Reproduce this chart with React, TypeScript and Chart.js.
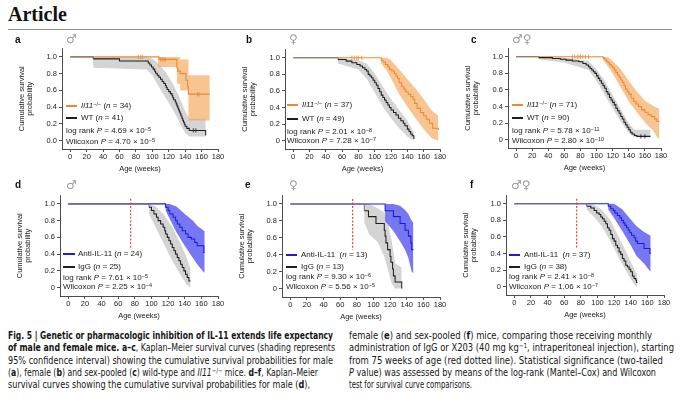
import React, { useEffect, useLayoutEffect, useRef } from 'react';
import { Chart, registerables } from 'chart.js';
Chart.register(...registerables);

// axes
const weekTicks = [0, 20, 40, 60, 80, 100, 120, 140, 160, 180];
const probTicks = [0, 0.2, 0.4, 0.6, 0.8, 1];
const treatStart = 75; // weeks, first antibody dose (d-f)
const treatMarkSpan = [0.46, 1.06];

// survival curves are step functions (value holds from its week on);
// CI bands are outline knots joined by straight edges (repeated week = vertical edge)

// a: male, WT vs Il11-/-
const aWtT = [0, 28, 60, 95, 97, 99, 101, 103, 104, 106, 108, 110, 112, 114, 116, 117, 118, 120, 122, 124, 125, 126, 128, 129, 130, 131, 132, 133, 134, 135, 136, 137, 138, 139, 140, 142, 145, 165];
const aWtS = [1, 0.976, 0.951, 0.927, 0.902, 0.878, 0.854, 0.829, 0.805, 0.78, 0.756, 0.732, 0.707, 0.683, 0.659, 0.634, 0.61, 0.585, 0.561, 0.537, 0.512, 0.488, 0.463, 0.439, 0.415, 0.39, 0.366, 0.341, 0.317, 0.293, 0.268, 0.244, 0.22, 0.195, 0.171, 0.146, 0.122, 0.06];
const aWtBandT = [0, 28, 28, 93, 100, 105, 110, 115, 120, 125, 130, 135, 140, 145, 165];
const aWtBandLo = [1, 1, 0.87, 0.85, 0.78, 0.69, 0.61, 0.53, 0.45, 0.37, 0.28, 0.18, 0.09, 0.05, 0.05];
const aWtBandUp = [1, 1, 1, 1, 0.98, 0.94, 0.89, 0.83, 0.76, 0.68, 0.58, 0.47, 0.35, 0.26, 0.26];
const aWtCens = [150, 153];
const aKoT = [0, 108, 130, 131, 134, 141, 143, 144, 170];
const aKoS = [1, 0.97, 0.87, 0.83, 0.8, 0.72, 0.64, 0.555, 0.555];
const aKoBandT = [0, 107, 107, 130, 130, 134, 134, 144, 144, 170];
const aKoBandLo = [1, 1, 0.88, 0.88, 0.68, 0.68, 0.6, 0.6, 0.24, 0.24];
const aKoBandUp = [1, 1, 1, 1, 1, 1, 0.97, 0.97, 0.78, 0.78];
const aKoCens = [83, 86, 88, 110, 112, 114, 116, 155, 157];

// b: female
const bWtT = [0, 55, 65, 72, 78, 82, 85, 88, 90, 92, 94, 96, 98, 100, 102, 104, 106, 108, 110, 112, 114, 116, 118, 120, 123, 126, 129, 132, 135, 137, 140, 142, 144, 146, 148];
const bWtS = [1, 0.98, 0.96, 0.94, 0.92, 0.9, 0.88, 0.86, 0.84, 0.8, 0.78, 0.76, 0.73, 0.7, 0.67, 0.63, 0.59, 0.55, 0.52, 0.49, 0.46, 0.43, 0.4, 0.37, 0.34, 0.31, 0.27, 0.24, 0.21, 0.18, 0.14, 0.11, 0.08, 0.06, 0.02];
const bWtBandT = [0, 55, 55, 80, 90, 100, 110, 120, 130, 140, 148];
const bWtBandLo = [1, 1, 0.93, 0.86, 0.75, 0.58, 0.41, 0.27, 0.15, 0.05, 0];
const bWtBandUp = [1, 1, 1, 0.97, 0.93, 0.81, 0.65, 0.5, 0.37, 0.24, 0.1];
const bKoT = [0, 108, 110, 113, 116, 118, 121, 124, 126, 128, 130, 133, 136, 138, 141, 144, 147, 149, 152, 156, 160, 163, 167, 171, 178];
const bKoS = [1, 0.97, 0.95, 0.92, 0.89, 0.86, 0.84, 0.81, 0.78, 0.75, 0.7, 0.65, 0.62, 0.59, 0.56, 0.53, 0.5, 0.45, 0.39, 0.34, 0.3, 0.26, 0.21, 0.15, 0.13];
const bKoBandT = [0, 108, 108, 115, 120, 130, 140, 150, 160, 170, 178];
const bKoBandLo = [1, 1, 0.93, 0.84, 0.75, 0.56, 0.41, 0.27, 0.14, 0.03, 0];
const bKoBandUp = [1, 1, 1, 1, 0.97, 0.86, 0.74, 0.63, 0.5, 0.36, 0.3];
const bKoCens = [72, 75, 78, 80, 84];

// c: sexes pooled
const cWtT = [0, 28, 45, 55, 62, 70, 78, 83, 87, 90, 92, 94, 96, 98, 100, 102, 104, 106, 108, 110, 112, 114, 116, 118, 120, 122, 124, 126, 128, 130, 132, 134, 136, 138, 140, 142, 144, 147, 150, 167];
const cWtS = [1, 0.99, 0.98, 0.97, 0.96, 0.95, 0.94, 0.92, 0.9, 0.88, 0.86, 0.84, 0.82, 0.8, 0.77, 0.74, 0.71, 0.68, 0.65, 0.62, 0.58, 0.55, 0.51, 0.48, 0.45, 0.42, 0.38, 0.35, 0.32, 0.28, 0.25, 0.21, 0.18, 0.15, 0.12, 0.09, 0.07, 0.05, 0.04, 0.04];
const cWtBandT = [0, 28, 28, 60, 90, 100, 110, 120, 130, 140, 147, 167];
const cWtBandLo = [1, 1, 0.97, 0.93, 0.84, 0.71, 0.54, 0.38, 0.22, 0.08, 0.03, 0.03];
const cWtBandUp = [1, 1, 1, 0.99, 0.95, 0.85, 0.71, 0.54, 0.37, 0.2, 0.12, 0.12];
const cWtCens = [155, 160];
const cKoT = [0, 108, 110, 112, 114, 116, 118, 120, 122, 124, 126, 128, 130, 132, 134, 136, 138, 140, 143, 146, 149, 152, 156, 160, 164, 168, 172, 175, 178];
const cKoS = [1, 0.985, 0.97, 0.95, 0.93, 0.91, 0.89, 0.87, 0.84, 0.81, 0.78, 0.75, 0.72, 0.69, 0.65, 0.61, 0.58, 0.55, 0.5, 0.46, 0.43, 0.4, 0.36, 0.33, 0.3, 0.28, 0.25, 0.22, 0.22];
const cKoBandT = [0, 108, 108, 115, 120, 130, 140, 150, 160, 170, 176, 178];
const cKoBandLo = [1, 1, 0.96, 0.87, 0.8, 0.63, 0.46, 0.33, 0.21, 0.11, 0.02, 0];
const cKoBandUp = [1, 1, 1, 0.99, 0.95, 0.85, 0.71, 0.58, 0.47, 0.41, 0.38, 0.38];
const cKoCens = [70, 73, 76, 78, 80, 83, 86, 90];

// d: male, IgG vs anti-IL-11
const dIgT = [0, 97, 100, 103, 106, 108, 111, 114, 116, 117, 119, 121, 123, 125, 127, 129, 131, 133, 135, 137, 139, 141, 143, 145, 147];
const dIgS = [1, 0.96, 0.92, 0.88, 0.84, 0.8, 0.76, 0.72, 0.68, 0.64, 0.6, 0.56, 0.52, 0.48, 0.44, 0.4, 0.36, 0.32, 0.28, 0.24, 0.2, 0.16, 0.12, 0.08, 0.08];
const dIgBandT = [0, 97, 97, 105, 115, 125, 135, 142, 147];
const dIgBandLo = [1, 1, 0.88, 0.72, 0.52, 0.32, 0.15, 0.04, 0];
const dIgBandUp = [1, 1, 1, 0.97, 0.87, 0.72, 0.52, 0.37, 0.22];
const dAbT = [0, 117, 120, 122, 126, 129, 131, 134, 137, 141, 144, 148, 152, 155, 163, 164];
const dAbS = [1, 0.96, 0.92, 0.88, 0.84, 0.8, 0.76, 0.72, 0.68, 0.64, 0.6, 0.58, 0.54, 0.5, 0.42, 0.42];
const dAbBandT = [0, 117, 117, 122, 130, 140, 150, 155, 163, 164];
const dAbBandLo = [1, 1, 0.92, 0.82, 0.66, 0.5, 0.35, 0.28, 0.18, 0.18];
const dAbBandUp = [1, 1, 1, 1, 0.97, 0.88, 0.8, 0.74, 0.68, 0.68];

// e: female
const eIgT = [0, 89, 94, 103, 113, 114, 115, 117, 120, 121, 123, 124, 126, 134];
const eIgS = [1, 0.92, 0.85, 0.77, 0.69, 0.62, 0.54, 0.46, 0.38, 0.31, 0.23, 0.15, 0.077, 0];
const eIgBandT = [0, 89, 89, 95, 105, 113, 118, 122, 126, 134];
const eIgBandLo = [1, 1, 0.78, 0.64, 0.55, 0.38, 0.2, 0.06, 0, 0];
const eIgBandUp = [1, 1, 1, 1, 0.95, 0.9, 0.74, 0.56, 0.3, 0.25];
const eAbT = [0, 114, 124, 132, 138, 142, 145, 146, 148];
const eAbS = [1, 0.92, 0.85, 0.77, 0.69, 0.62, 0.54, 0.46, 0.46];
const eAbBandT = [0, 114, 114, 124, 132, 138, 142, 146, 148];
const eAbBandLo = [1, 1, 0.8, 0.68, 0.56, 0.46, 0.36, 0.2, 0.18];
const eAbBandUp = [1, 1, 1, 1, 0.98, 0.93, 0.88, 0.8, 0.78];

// f: sexes pooled
const fIgT = [0, 87, 92, 96, 99, 102, 104, 106, 108, 110, 112, 114, 116, 118, 120, 122, 124, 126, 128, 130, 132, 134, 136, 138, 140, 142, 144, 146, 147, 148];
const fIgS = [1, 0.97, 0.95, 0.92, 0.89, 0.87, 0.84, 0.82, 0.79, 0.76, 0.71, 0.68, 0.63, 0.58, 0.55, 0.5, 0.47, 0.42, 0.39, 0.34, 0.31, 0.26, 0.24, 0.21, 0.18, 0.13, 0.1, 0.08, 0.05, 0.05];
const fIgBandT = [0, 87, 87, 95, 105, 115, 125, 135, 142, 146, 148];
const fIgBandLo = [1, 1, 0.93, 0.85, 0.73, 0.56, 0.36, 0.18, 0.06, 0.01, 0];
const fIgBandUp = [1, 1, 1, 0.99, 0.93, 0.81, 0.61, 0.41, 0.26, 0.17, 0.15];
const fAbT = [0, 113, 116, 119, 121, 124, 127, 129, 131, 133, 135, 137, 139, 141, 144, 146, 148, 156, 163, 164];
const fAbS = [1, 0.97, 0.94, 0.92, 0.89, 0.86, 0.83, 0.8, 0.77, 0.74, 0.71, 0.68, 0.65, 0.62, 0.59, 0.55, 0.52, 0.46, 0.4, 0.4];
const fAbBandT = [0, 113, 113, 120, 130, 140, 147, 156, 163, 164];
const fAbBandLo = [1, 1, 0.93, 0.83, 0.67, 0.5, 0.37, 0.28, 0.19, 0.18];
const fAbBandUp = [1, 1, 1, 1, 0.93, 0.81, 0.73, 0.66, 0.62, 0.62];

// legend / stats
const nTreated = [34, 37, 71, 24, 13, 37];
const nControl = [41, 49, 90, 25, 13, 38];
const logRankMant = ['4.69', '2.01', '5.78', '7.61', '9.30', '2.41'];
const logRankExp = ['−5', '−8', '−11', '−5', '−6', '−8'];
const wilcoxMant = ['4.70', '7.28', '2.80', '2.25', '5.56', '1.06'];
const wilcoxExp = ['−5', '−7', '−10', '−4', '−5', '−7'];

const COL = {
  wt: '#1e1e1e',
  shared: '#767676', // both groups overlap at 100% survival
  ko: '#ea8a30',
  ab: '#1c1cd2',
  wtBand: 'rgba(170,170,170,0.5)',
  koBand: 'rgba(244,160,78,0.62)',
  abBand: 'rgba(72,72,240,0.74)',
  red: '#d63a30',
  axis: '#222',
};
const FONT = 'Liberation Sans, Arial, sans-serif';

type Curve = { t: number[]; s: number[]; bt: number[]; lo: number[]; up: number[]; cens?: number[] };

const pts = (t: number[], v: number[]) => t.map((x, i) => ({ x, y: v[i] }));
const survAt = (c: Curve, x: number) => {
  let v = c.s[0];
  c.t.forEach((t, i) => { if (t <= x) v = c.s[i]; });
  return v;
};

const AXIS_W = 44;
const AXIS_H = 24;
const PAD_T = 2;
const PAD_R = 9;

interface PanelProps {
  area: number[]; // chart area in page px: left, top, right, bottom
  ctrl: Curve;
  trt: Curve;
  trtColor: string;
  trtBand: string;
  zeroLabel: string;
  treated: boolean;
}

const KMChart: React.FC<PanelProps> = ({ area, ctrl, trt, trtColor, trtBand, zeroLabel, treated }) => {
  const ref = useRef<HTMLCanvasElement>(null);
  const [L, T, R, B] = area;
  const left = L - AXIS_W;
  const top = T - PAD_T;
  const width = R - left + PAD_R;
  const height = B - T + PAD_T + AXIS_H;

  useEffect(() => {
    if (!ref.current) return;
    const line = (c: Curve, color: string, order: number, greyStart: boolean) => ({
      data: pts(c.t, c.s), borderColor: color, borderWidth: 1.05, stepped: 'before',
      pointRadius: 0, fill: false, order,
      segment: greyStart ? { borderColor: (s: any) => (s.p0.parsed.y >= 1 ? COL.shared : undefined) } : undefined,
    });
    const band = (c: Curve, color: string, order: number) => [
      { data: pts(c.bt, c.up), borderWidth: 0, borderColor: 'transparent', backgroundColor: color,
        fill: '+1', tension: 0, pointRadius: 0, order },
      { data: pts(c.bt, c.lo), borderWidth: 0, borderColor: 'transparent',
        fill: false, tension: 0, pointRadius: 0, order },
    ];
    const cens = (c: Curve, color: string) => c.cens ? [{
      data: c.cens.map(x => ({ x, y: survAt(c, x) })), showLine: false, pointStyle: 'line',
      rotation: 90, pointRadius: 2.2, borderColor: color, borderWidth: 0.8, order: 0,
    }] : [];

    const treatPlugin = {
      id: 'treatLine',
      afterDatasetsDraw(chart: any) {
        if (!treated) return;
        const { ctx, scales: { x, y } } = chart;
        const px = x.getPixelForValue(treatStart);
        ctx.save();
        ctx.strokeStyle = COL.red;
        ctx.lineWidth = 1.1;
        ctx.setLineDash([2, 1.6]);
        ctx.beginPath();
        ctx.moveTo(px, y.getPixelForValue(treatMarkSpan[1]));
        ctx.lineTo(px, y.getPixelForValue(treatMarkSpan[0]));
        ctx.stroke();
        ctx.restore();
      },
    };

    const tickFont = { family: FONT, size: 7.5 };
    const chart = new Chart(ref.current, {
      type: 'line',
      data: {
        datasets: [
          line(ctrl, COL.wt, 0, true),
          line(trt, trtColor, 1, false),
          ...cens(trt, trtColor),
          ...cens(ctrl, COL.wt),
          ...band(trt, trtBand, 2),
          ...band(ctrl, COL.wtBand, 3),
        ] as any,
      },
      options: {
        responsive: false,
        animation: false,
        events: [],
        layout: { padding: { top: PAD_T, right: PAD_R, left: 0, bottom: 0 } },
        plugins: { legend: { display: false }, tooltip: { enabled: false } },
        scales: {
          x: {
            type: 'linear', min: -10, max: 180,
            afterBuildTicks: (a: any) => { a.ticks = weekTicks.map(value => ({ value })); },
            afterFit: (a: any) => { a.height = AXIS_H; },
            ticks: { font: tickFont, color: COL.axis, padding: 0, maxRotation: 0, autoSkip: false },
            grid: { drawOnChartArea: false, drawTicks: true, tickLength: 3, color: COL.axis, lineWidth: 0.8 },
            border: { color: COL.axis, width: 0.8 },
            title: { display: true, text: 'Age (weeks)', font: tickFont, color: COL.axis, padding: { top: 1, bottom: 0 } },
          },
          y: {
            type: 'linear', min: -0.1, max: 1.1,
            afterBuildTicks: (a: any) => { a.ticks = probTicks.map(value => ({ value })); },
            afterFit: (a: any) => { a.width = AXIS_W; },
            ticks: {
              font: tickFont, color: COL.axis, padding: 2,
              callback: (v: any) => (Number(v) === 0 ? zeroLabel : Number(v).toFixed(1)),
            },
            grid: { drawOnChartArea: false, drawTicks: true, tickLength: 3, color: COL.axis, lineWidth: 0.8 },
            border: { color: COL.axis, width: 0.8 },
            title: {
              display: true, text: ['Cumulative survival', 'probability'], font: { ...tickFont, lineHeight: 1.1 },
              color: COL.axis, padding: 0,
            },
          },
        },
      },
      plugins: [treatPlugin],
    } as any);
    return () => chart.destroy();
  }, []);

  return (
    <canvas ref={ref} width={width} height={height}
      style={{ position: 'absolute', left, top, width, height }} />
  );
};

const curvesCtrl: Curve[] = [
  { t: aWtT, s: aWtS, bt: aWtBandT, lo: aWtBandLo, up: aWtBandUp, cens: aWtCens },
  { t: bWtT, s: bWtS, bt: bWtBandT, lo: bWtBandLo, up: bWtBandUp },
  { t: cWtT, s: cWtS, bt: cWtBandT, lo: cWtBandLo, up: cWtBandUp, cens: cWtCens },
  { t: dIgT, s: dIgS, bt: dIgBandT, lo: dIgBandLo, up: dIgBandUp },
  { t: eIgT, s: eIgS, bt: eIgBandT, lo: eIgBandLo, up: eIgBandUp },
  { t: fIgT, s: fIgS, bt: fIgBandT, lo: fIgBandLo, up: fIgBandUp },
];
const curvesTrt: Curve[] = [
  { t: aKoT, s: aKoS, bt: aKoBandT, lo: aKoBandLo, up: aKoBandUp, cens: aKoCens },
  { t: bKoT, s: bKoS, bt: bKoBandT, lo: bKoBandLo, up: bKoBandUp, cens: bKoCens },
  { t: cKoT, s: cKoS, bt: cKoBandT, lo: cKoBandLo, up: cKoBandUp, cens: cKoCens },
  { t: dAbT, s: dAbS, bt: dAbBandT, lo: dAbBandLo, up: dAbBandUp },
  { t: eAbT, s: eAbS, bt: eAbBandT, lo: eAbBandLo, up: eAbBandUp },
  { t: fAbT, s: fAbS, bt: fAbBandT, lo: fAbBandLo, up: fAbBandUp },
];

// page layout of the six panels
const panelLetters = ['a', 'b', 'c', 'd', 'e', 'f'];
const panelSex = ['♂', '♀', '♂♀', '♂', '♀', '♂♀'];
const layout = [
  { area: [62, 44, 218, 149], letter: [15, 35], sex: [66, 32], key: [66, 77, 81], rows: [106, 118, 131, 142] },
  { area: [285, 45, 440, 149], letter: [246, 35], sex: [289, 32], key: [287, 298, 302], rows: [105, 119, 132, 141] },
  { area: [508, 44, 661, 148], letter: [471, 35], sex: [512, 32], key: [512, 523, 527], rows: [105, 118, 131, 141] },
  { area: [60, 191, 218, 296], letter: [15, 180], sex: [66, 178], key: [63, 75, 78], rows: [254, 267, 278, 287] },
  { area: [282, 191, 440, 297], letter: [245, 180], sex: [289, 178], key: [286, 297, 301], rows: [255, 267, 277, 287] },
  { area: [506, 191, 664, 295], letter: [470, 180], sex: [511, 178], key: [509, 520, 524], rows: [255, 267, 277, 287] },
];

const supStyle: React.CSSProperties = { fontSize: '0.68em', verticalAlign: '0.45em', lineHeight: 0 };

const textLine = (x: number, cy: number, content: React.ReactNode, k: string) => (
  <div key={k} style={{
    position: 'absolute', left: x, top: cy - 5, height: 10, lineHeight: '10px',
    fontFamily: FONT, fontSize: 8, color: '#1a1a1a', whiteSpace: 'pre',
  }}>{content}</div>
);

const keyLine = (x1: number, x2: number, cy: number, color: string, k: string) => (
  <div key={k} style={{ position: 'absolute', left: x1, top: cy - 0.75, width: x2 - x1, height: 1.5, background: color }} />
);

function PanelText({ i }: { i: number }) {
  const L = layout[i];
  const [x1, x2, tx] = L.key;
  const [r1, r2, r3, r4] = L.rows;
  const genetic = i < 3;
  const trtColor = genetic ? COL.ko : COL.ab;
  return (
    <>
      <div style={{ position: 'absolute', left: L.letter[0], top: L.letter[1], fontFamily: FONT, fontWeight: 700, fontSize: 10, lineHeight: '10px', color: '#111' }}>
        {panelLetters[i]}
      </div>
      <div style={{ position: 'absolute', left: L.sex[0], top: L.sex[1], fontFamily: 'DejaVu Sans, sans-serif', fontSize: 12, lineHeight: '14px', color: '#9a9a9a' }}>
        {panelSex[i]}
      </div>
      {keyLine(x1, x2, r1, trtColor, 'k1')}
      {keyLine(x1, x2, r2, COL.wt, 'k2')}
      {textLine(tx, r1, genetic
        ? <><i>Il11</i><span style={supStyle}>−/−</span> (<i>n</i> = {nTreated[i]})</>
        : <>Anti-IL-11{i > 3 ? '  ' : ' '}(<i>n</i> = {nTreated[i]})</>, 't1')}
      {textLine(tx, r2, <>{genetic ? 'WT' : 'IgG'} (<i>n</i> = {nControl[i]})</>, 't2')}
      {textLine(x1, r3, <>log rank <i>P</i> = {logRankMant[i]} × 10<span style={supStyle}>{logRankExp[i]}</span></>, 't3')}
      {textLine(x1, r4, <>Wilcoxon <i>P</i> = {wilcoxMant[i]} × 10<span style={supStyle}>{wilcoxExp[i]}</span></>, 't4')}
    </>
  );
}

// caption, laid out line by line as in the print
const capLeft: React.ReactNode[] = [
  <b>Fig. 5 | Genetic or pharmacologic inhibition of IL-11 extends life expectancy</b>,
  <><b>of male and female mice. a–c</b>, Kaplan–Meier survival curves (shading represents</>,
  <>95% confidence interval) showing the cumulative survival probabilities for male</>,
  <>(<b>a</b>), female (<b>b</b>) and sex-pooled (<b>c</b>) wild-type and <i>Il11</i><span style={supStyle}>−/−</span> mice. <b>d–f</b>, Kaplan–Meier</>,
  <>survival curves showing the cumulative survival probabilities for male (<b>d</b>),</>,
];
const capRight: React.ReactNode[] = [
  <>female (<b>e</b>) and sex-pooled (<b>f</b>) mice, comparing those receiving monthly</>,
  <>administration of IgG or X203 (40 mg kg<span style={supStyle}>−1</span>, intraperitoneal injection), starting</>,
  <>from 75 weeks of age (red dotted line). Statistical significance (two-tailed</>,
  <><i>P</i> value) was assessed by means of the log-rank (Mantel–Cox) and Wilcoxon</>,
  <>test for survival curve comparisons.</>,
];
const capLeftEnd = [333, 335, 333, 318, 310];
const capRightEnd = [652, 674, 663, 656, 472];
const capRows = [335, 347, 360, 372, 384];

function Caption() {
  const refs = useRef<(HTMLDivElement | null)[]>([]);
  const ends = [...capLeftEnd, ...capRightEnd];
  const starts = [...capLeftEnd.map(() => 8), ...capRightEnd.map(() => 349)];
  useLayoutEffect(() => {
    refs.current.forEach((el, i) => {
      if (!el) return;
      const w = el.getBoundingClientRect().width;
      if (w > 0) el.style.transform = `scaleX(${(ends[i] - starts[i]) / w})`;
    });
  }, []);
  const all = [...capLeft, ...capRight];
  return (
    <>
      {all.map((c, i) => (
        <div key={i} ref={el => { refs.current[i] = el; }} style={{
          position: 'absolute', left: starts[i], top: capRows[i % 5] - 6.5, lineHeight: '13px',
          fontFamily: '"Liberation Sans Narrow", "DejaVu Sans Condensed", "Liberation Sans", sans-serif',
          fontSize: 10, color: '#151515', whiteSpace: 'pre', transformOrigin: '0 0',
        }}>{c}</div>
      ))}
    </>
  );
}

export default function App() {
  return (
    <div style={{ position: 'absolute', left: 0, top: 0, width: 680, height: 402, background: '#fff', overflow: 'hidden' }}>
      <div style={{ position: 'absolute', left: 8, top: 4, fontFamily: '"Liberation Serif", serif', fontWeight: 700, fontSize: 20, lineHeight: '20px', color: '#111' }}>
        Article
      </div>
      <div style={{ position: 'absolute', left: 8, top: 29, width: 664, height: 1, background: '#8e8e8e' }} />
      {layout.map((L, i) => (
        <KMChart key={i} area={L.area} ctrl={curvesCtrl[i]} trt={curvesTrt[i]}
          trtColor={i < 3 ? COL.ko : COL.ab} trtBand={i < 3 ? COL.koBand : COL.abBand}
          zeroLabel={i === 0 ? '0.0' : '0'} treated={i >= 3} />
      ))}
      {layout.map((_, i) => <PanelText key={i} i={i} />)}
      <Caption />
    </div>
  );
}
